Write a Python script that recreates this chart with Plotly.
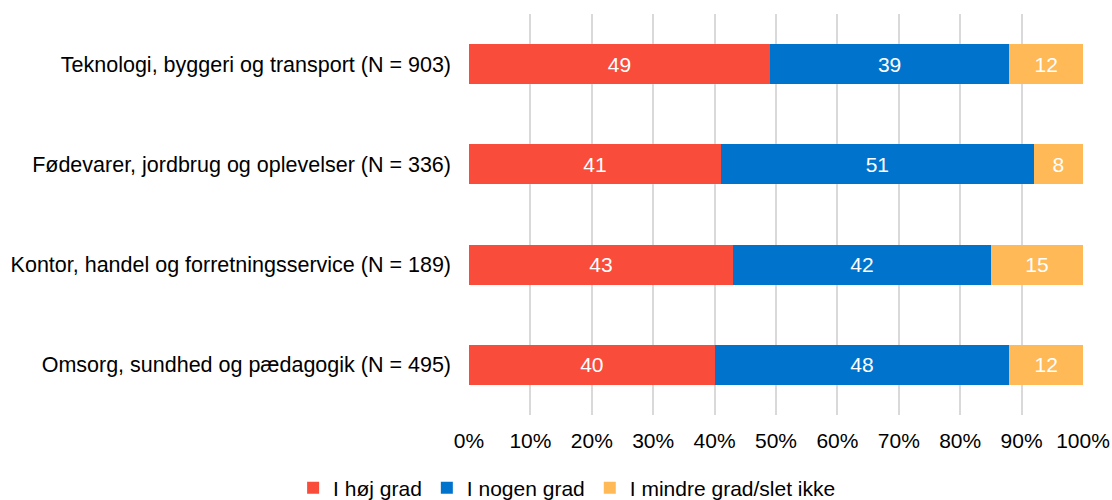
import plotly.graph_objects as go

categories = [
    "Teknologi, byggeri og transport (N = 903)",
    "Fødevarer, jordbrug og oplevelser (N = 336)",
    "Kontor, handel og forretningsservice (N = 189)",
    "Omsorg, sundhed og pædagogik (N = 495)",
]
series_names = ["I høj grad", "I nogen grad", "I mindre grad/slet ikke"]
hoj = [49, 41, 43, 40]
nogen = [39, 51, 42, 48]
mindre = [12, 8, 15, 12]
colors = ["#F94C3B", "#0074CD", "#FFB957"]
tick_vals = [0, 10, 20, 30, 40, 50, 60, 70, 80, 90, 100]
tick_text = [f"{v}%" for v in tick_vals]

FS = 21

fig = go.Figure()
for name, vals, col in zip(series_names, [hoj, nogen, mindre], colors):
    fig.add_trace(go.Bar(
        y=categories, x=vals, name=name, orientation="h",
        marker=dict(color=col, line=dict(width=0)),
        text=[str(v) for v in vals], textposition="inside",
        insidetextanchor="middle",
        textfont=dict(color="white", size=FS, family="Liberation Sans"),
    ))

fig.update_layout(
    barmode="stack", bargap=0.6,
    width=1112, height=500,
    margin=dict(l=469, r=29, t=14, b=85, autoexpand=False),
    plot_bgcolor="white", paper_bgcolor="white",
    font=dict(family="Liberation Sans", size=FS, color="#000000"),
    showlegend=True,
    legend=dict(orientation="h", xref="container", yref="container",
                x=0.51, xanchor="center", y=0.024, yanchor="middle",
                font=dict(size=FS), traceorder="normal",
                itemwidth=30),
    uniformtext=dict(mode="show", minsize=FS),
)
fig.update_xaxes(range=[0, 100], tickvals=tick_vals, ticktext=tick_text,
                 showgrid=True, gridcolor="#D9D9D9", gridwidth=2,
                 zeroline=False, showline=False, ticks="", ticklabelstandoff=11,
                 automargin=False, fixedrange=True)
fig.update_yaxes(autorange="reversed", showgrid=False, showline=False,
                 ticks="", ticklabelstandoff=17, automargin=False,
                 tickfont=dict(size=21.5))

fig.write_html("out.html", config={"displayModeBar": False},
               post_script="document.body.style.margin='0';")
